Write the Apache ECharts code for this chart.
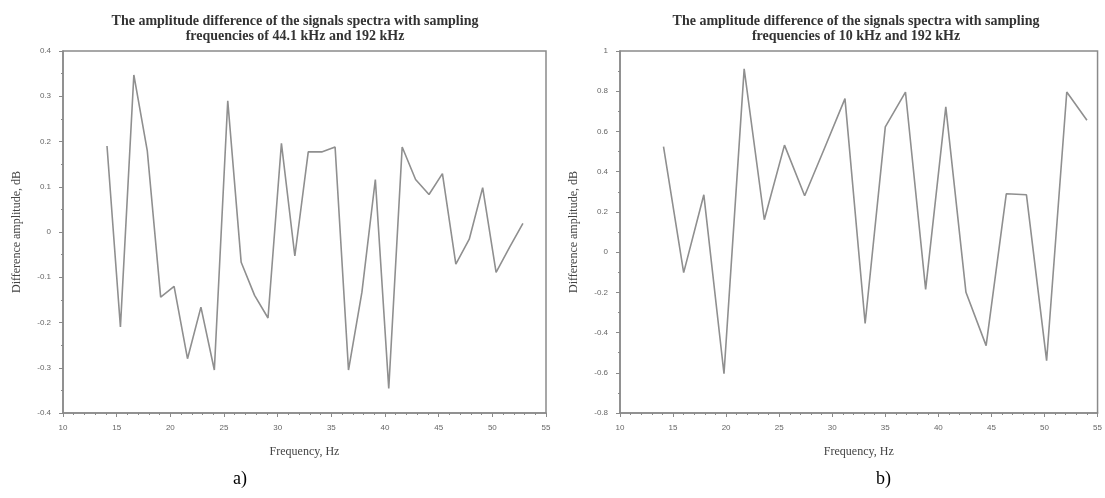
<!DOCTYPE html>
<html><head><meta charset="utf-8">
<script src="https://cdn.jsdelivr.net/npm/echarts@6/dist/echarts.min.js"></script>
<style>html,body{margin:0;padding:0;background:#fff}#c{width:1105px;height:498px}</style>
</head><body><div id="c"></div>
<script>
// Panel a) : 44.1 kHz vs 192 kHz
const freqA = [14.1,15.35,16.6,17.85,19.1,20.35,21.6,22.85,24.1,25.35,26.6,27.85,29.1,30.35,31.6,32.85,34.1,35.35,36.6,37.85,39.1,40.35,41.6,42.85,44.1,45.35,46.6,47.85,49.1,50.35,51.6,52.85];
const diffA = [0.19,-0.21,0.347,0.18,-0.144,-0.12,-0.28,-0.166,-0.305,0.29,-0.067,-0.14,-0.19,0.196,-0.053,0.177,0.177,0.188,-0.305,-0.133,0.116,-0.346,0.188,0.116,0.083,0.129,-0.071,-0.016,0.098,-0.089,-0.034,0.019];
// Panel b) : 10 kHz vs 192 kHz
const freqB = [14.1,16.0,17.9,19.8,21.7,23.6,25.5,27.4,29.3,31.2,33.1,35.0,36.9,38.8,40.7,42.6,44.5,46.4,48.3,50.2,52.1,54.0];
const diffB = [0.524,-0.102,0.285,-0.605,0.911,0.161,0.532,0.28,0.52,0.763,-0.355,0.623,0.796,-0.185,0.722,-0.2,-0.465,0.29,0.285,-0.54,0.796,0.656];
const titleA = "The amplitude difference of the signals spectra with sampling\nfrequencies of 44.1 kHz and 192 kHz";
const titleB = "The amplitude difference of the signals spectra with sampling\nfrequencies of 10 kHz and 192 kHz";
const xName = "Frequency, Hz";
const yName = "Difference amplitude, dB";

const chart = echarts.init(document.getElementById('c'));
const axisGray = '#8a8a8a';
const serif = '"Liberation Serif","DejaVu Serif",serif';
const sans = '"Liberation Sans","DejaVu Sans",sans-serif';
function xAx(gi){
  return {type:'value', gridIndex:gi, min:10, max:55, interval:5,
    name:xName, nameLocation:'middle', nameGap:33,
    nameTextStyle:{fontFamily:serif, fontSize:12, color:'#444'},
    axisLine:{onZero:false, lineStyle:{color:axisGray,width:1.5}},
    axisTick:{show:true, length:4, lineStyle:{color:axisGray}},
    minorTick:{show:true, splitNumber:5, length:2, lineStyle:{color:axisGray}},
    splitLine:{show:false},
    axisLabel:{fontFamily:sans, fontSize:8, color:'#666', margin:11}};
}
function yAx(gi,min,max,interval){
  return {type:'value', gridIndex:gi, min:min, max:max, interval:interval,
    name:yName, nameLocation:'middle', nameGap:40,
    nameTextStyle:{fontFamily:serif, fontSize:12, color:'#444'},
    axisLine:{show:true, onZero:false, lineStyle:{color:axisGray,width:1.5}},
    axisTick:{show:true, length:4, lineStyle:{color:axisGray}},
    minorTick:{show:true, splitNumber:2, length:2, lineStyle:{color:axisGray}},
    splitLine:{show:false},
    axisLabel:{fontFamily:sans, fontSize:8, color:'#666', margin:12,
      formatter: v => (Math.round(v*10)/10).toString()}};
}
chart.setOption({
  animation:false,
  backgroundColor:'#fff',
  title:[
    {text:titleA, left:290, top:9, textAlign:'center',
     textStyle:{fontFamily:serif, fontSize:14, fontWeight:'bold', color:'#333', lineHeight:15}},
    {text:titleB, left:851, top:9, textAlign:'center',
     textStyle:{fontFamily:serif, fontSize:14, fontWeight:'bold', color:'#333', lineHeight:15}}
  ],
  grid:[
    {left:63, right:559, top:51, bottom:85, show:true, borderColor:axisGray, borderWidth:1.5},
    {left:620, right:5, top:51, bottom:85, show:true, borderColor:axisGray, borderWidth:1.5}
  ],
  xAxis:[xAx(0), xAx(1)],
  yAxis:[yAx(0,-0.4,0.4,0.1), yAx(1,-0.8,1,0.2)],
  series:[
    {type:'line', xAxisIndex:0, yAxisIndex:0, data:freqA.map((f,i)=>[f,diffA[i]]),
     showSymbol:false, lineStyle:{color:'#8f8f8f', width:1.6}},
    {type:'line', xAxisIndex:1, yAxisIndex:1, data:freqB.map((f,i)=>[f,diffB[i]]),
     showSymbol:false, lineStyle:{color:'#8f8f8f', width:1.6}}
  ],
  graphic:[
    {type:'text', left:233, top:470, style:{text:'a)', font:'18px "Liberation Serif",serif', fill:'#000'}},
    {type:'text', left:876, top:470, style:{text:'b)', font:'18px "Liberation Serif",serif', fill:'#000'}}
  ]
});
</script></body></html>
